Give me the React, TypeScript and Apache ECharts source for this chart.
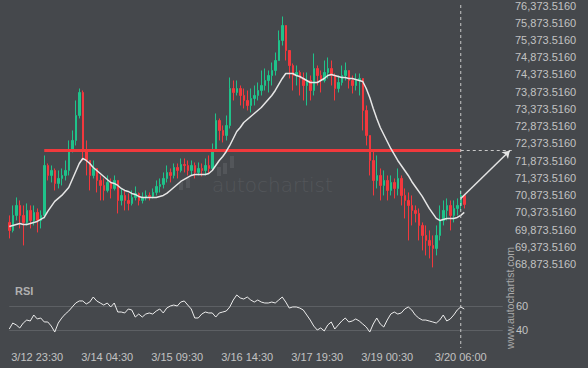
import React, { useEffect, useRef } from 'react';
import * as echarts from 'echarts';

// ---- data ----
const firstOpen = 70080;
const closes = [
  69848, 70283, 70573, 70283, 70080, 70428, 70138, 70370, 70138, 70283,
  71733, 71443, 71588, 71211, 71356, 71443, 71588, 72168, 72458, 73183,
  73850, 72168, 71878, 71443, 71646, 71298, 71153, 71008, 71240, 71066,
  71298, 70718, 70863, 70718, 70631, 70805, 70921, 70718, 70805, 70863,
  70834, 70950, 71124, 71182, 71356, 71530, 71443, 71675, 71588, 71762,
  71733, 71588, 71733, 71530, 71646, 71588, 71733, 71646, 72168, 73038,
  72748, 72603, 72893, 73966, 73850, 73966, 73763, 73618, 73473, 73676,
  73763, 73908, 74053, 74198, 74343, 74488, 74778, 75358, 75793, 75068,
  74633, 74343, 74430, 74256, 74053, 74198, 73908, 74546, 74343, 74198,
  74430, 74546, 74343, 73966, 74140, 74343, 74488, 74198, 74053, 74198,
  74256, 73328, 72603, 71878, 71298, 71443, 71153, 71298, 71008, 71240,
  71066, 71356, 70863, 70718, 70573, 70428, 70341, 69993, 69703, 69558,
  69413, 69326, 69703, 70138, 70428, 70573, 70283, 70486, 70573, 70863,
  70602,
];
const highs = [
  70283, 70573, 70805, 70718, 70573, 70631, 70573, 70573, 70486, 70428,
  72023, 71791, 71733, 71646, 71588, 71646, 71878, 72458, 72748, 73618,
  73966, 73908, 72458, 71878, 71878, 71646, 71443, 71356, 71443, 71356,
  71443, 71153, 71066, 71008, 70921, 71008, 71124, 70950, 70950, 71008,
  70950, 71066, 71298, 71356, 71530, 71733, 71646, 71791, 71791, 71936,
  71936, 71878, 71878, 71820, 71820, 71791, 71936, 72023, 72371, 73241,
  73096, 72893, 73183, 74285, 74198, 74198, 74053, 73966, 73908, 73966,
  74053, 74140, 74488, 74546, 74488, 74720, 75010, 75648, 76054, 75793,
  75068, 74691, 74633, 74488, 74430, 74430, 74343, 74981, 74633, 74488,
  74778, 74865, 74778, 74401, 74343, 74633, 74720, 74488, 74343, 74401,
  74401, 74256, 73473, 72603, 72168, 72023, 71646, 71588, 71443, 71443,
  71356, 71646, 71443, 71066, 70950, 70863, 70573, 70486, 70080, 69993,
  69848, 69703, 69993, 70573, 70718, 70776, 70718, 70718, 70776, 71008,
  70863,
];
const lows = [
  69616, 69790, 70138, 69906, 69413, 69993, 69906, 69993, 69790, 69906,
  70196, 71298, 71240, 71008, 71066, 71153, 71298, 71443, 72110, 72313,
  73096, 71878, 71443, 71008, 71356, 70950, 70718, 70718, 70950, 70776,
  71008, 70341, 70573, 70428, 70428, 70573, 70718, 70573, 70631, 70718,
  70718, 70776, 70863, 70950, 71066, 71240, 71240, 71356, 71356, 71530,
  71530, 71443, 71443, 71356, 71443, 71414, 71443, 71501, 71588, 72168,
  72458, 72400, 72458, 72806, 73618, 73763, 73473, 73386, 73328, 73270,
  73473, 73618, 73763, 73908, 73850, 74053, 74343, 74836, 75213, 74778,
  74256, 73908, 74053, 73763, 73618, 73473, 73618, 73763, 74053, 73850,
  74140, 74256, 74053, 73618, 73850, 74053, 74198, 73966, 73821, 73908,
  73763, 72748, 72313, 71443, 70863, 71066, 70718, 70863, 70718, 70863,
  70776, 70863, 70573, 70196, 69558, 69993, 70080, 69558, 69268, 69123,
  69036, 68775, 69123, 69558, 69993, 70138, 69848, 70080, 70283, 70428,
  70486,
];
const maValues = [
  69964, 69993, 70022, 70051, 70022, 70022, 70051, 70080, 70109, 70167,
  70225, 70399, 70544, 70689, 70776, 70863, 70979, 71095, 71327, 71559,
  71791, 71936, 71878, 71791, 71675, 71588, 71501, 71414, 71327, 71240,
  71211, 71153, 71066, 71008, 70979, 70921, 70892, 70834, 70805, 70805,
  70805, 70805, 70805, 70834, 70863, 70921, 71008, 71095, 71182, 71269,
  71327, 71385, 71443, 71472, 71472, 71472, 71472, 71501, 71588, 71733,
  71878, 71994, 72139, 72313, 72516, 72719, 72835, 72980, 73067, 73154,
  73241, 73328, 73415, 73531, 73647, 73763, 73908, 74082, 74256, 74401,
  74401, 74401, 74343, 74314, 74256, 74198, 74140, 74140, 74140, 74198,
  74256, 74343, 74372, 74343, 74314, 74285, 74285, 74256, 74256, 74227,
  74198, 74169, 73966, 73705, 73386, 73096, 72835, 72632, 72429, 72226,
  72052, 71878, 71733, 71588, 71443, 71269, 71124, 70979, 70834, 70660,
  70486, 70341, 70196, 70138, 70167, 70196, 70196, 70196, 70225, 70283,
  70370,
];
const rsiValues = [
  40.8, 45.8, 44.2, 41.7, 45.8, 48.3, 47.5, 52.5, 49.2, 50,
  46.7, 46.7, 43.3, 38.3, 45.8, 50, 53.3, 55.8, 59.2, 62.5,
  64.2, 64.2, 61.7, 63.3, 67.5, 64.2, 62.5, 60.8, 62.5, 59.2,
  62.5, 55, 55, 54.2, 57.5, 56.7, 50.8, 53.3, 50.8, 53.3,
  54.2, 53.3, 55.8, 57.5, 54.2, 58.3, 60, 60.8, 60, 63.3,
  64.2, 60.8, 57.5, 50, 50, 53.3, 55, 54.2, 54.2, 50.8,
  54.2, 55, 55.8, 59.2, 65, 69.2, 66.7, 65.8, 67.5, 65,
  63.3, 65, 63.3, 62.5, 62.5, 63.3, 62.5, 65, 67.5, 63.3,
  58.3, 59.2, 59.2, 58.3, 56.7, 52.5, 48.3, 43.3, 40, 41.7,
  39.2, 44.2, 46.7, 40.8, 44.2, 47.5, 50, 46.7, 47.5, 49.2,
  47.5, 45, 42.5, 38.3, 45, 50, 45, 42.5, 48.3, 53.3,
  55, 53.3, 54.2, 57.5, 59.2, 56.7, 52.5, 50, 48.3, 48.3,
  47.5, 46.7, 45.8, 48.3, 52.5, 47.5, 49.2, 52.5, 56.7, 59.2,
  57.5,
];
const priceTicks = [
  68873.516, 69373.516, 69873.516, 70373.516, 70873.516, 71373.516,
  71873.516, 72373.516, 72873.516, 73373.516, 73873.516, 74373.516,
  74873.516, 75373.516, 75873.516, 76373.516,
];
const rsiTicks = [40, 60];
const timeLabels = ['3/12 23:30', '3/14 04:30', '3/15 09:30', '3/16 14:30', '3/17 19:30', '3/19 00:30', '3/20 06:00'];
const timeLabelIndex = [8, 28, 48, 68, 88, 108, 129];
const patternLevel = 72160;
const lineStartIndex = 10;
const nowIndex = 129;
const arrowStartPrice = 70776;
const arrowEndIndex = 143;
const projectionEndIndex = 144;
const slotCount = 145;

const BG = '#45484c';
const LABEL = '#c2c2c2';
const FONT = 'Liberation Sans, Arial, sans-serif';

export default function App() {
  const ref = useRef<HTMLDivElement>(null);
  useEffect(() => {
    const el = ref.current;
    if (!el) return;
    const chart = echarts.init(el, undefined, { renderer: 'svg' });
    const categories = Array.from({ length: slotCount }, (_, i) => String(i));
    const candles = closes.map((c, i) => {
      const o = i === 0 ? firstOpen : closes[i - 1];
      return [o, c, Math.min(lows[i], o, c), Math.max(highs[i], o, c)];
    });
    const labelAt = (idx: number) => {
      const k = timeLabelIndex.indexOf(idx);
      return k >= 0 ? timeLabels[k] : '';
    };
    const fmt = (v: number) =>
      Number(v).toLocaleString('en-US', { minimumFractionDigits: 4, maximumFractionDigits: 4 });

    const gridLeft = 7.5;
    const gridWidth = slotCount * 3.5;

    chart.setOption({
      animation: false,
      backgroundColor: BG,
      grid: [
        { left: gridLeft, top: 0, width: gridWidth, height: 270 },
        { left: gridLeft, top: 282, width: gridWidth, height: 60 },
      ],
      xAxis: [
        {
          type: 'category', gridIndex: 0, data: categories, boundaryGap: true,
          axisLine: { show: false }, axisTick: { show: false }, axisLabel: { show: false }, splitLine: { show: false },
        },
        {
          type: 'category', gridIndex: 1, data: categories, boundaryGap: true,
          axisLine: { show: false }, axisTick: { show: false }, splitLine: { show: false },
          axisLabel: {
            color: LABEL, fontSize: 11, fontFamily: FONT, margin: 9,
            interval: (index: number) => timeLabelIndex.indexOf(index) >= 0,
            formatter: (_v: string, index: number) => labelAt(index),
          },
        },
      ],
      yAxis: [
        {
          type: 'value', gridIndex: 0, position: 'right', min: 68700, max: 76518, scale: true,
          axisLine: { show: false }, axisTick: { show: false }, splitLine: { show: false },
          axisLabel: { color: LABEL, fontSize: 11, fontFamily: FONT, margin: 0, customValues: priceTicks, formatter: fmt },
        },
        {
          type: 'value', gridIndex: 1, position: 'right', min: 30, max: 80,
          axisLine: { show: false }, axisTick: { show: false }, splitLine: { show: false },
          axisLabel: { color: LABEL, fontSize: 11, fontFamily: FONT, margin: 1, customValues: rsiTicks },
        },
      ],
      series: [
        {
          type: 'candlestick', xAxisIndex: 0, yAxisIndex: 0, data: candles, barWidth: 2,
          itemStyle: { color: '#1fc28a', color0: '#f3383d', borderColor: '#1fc28a', borderColor0: '#f3383d', borderWidth: 1 },
          markLine: {
            silent: true, symbol: ['none', 'none'], label: { show: false },
            data: [
              [
                { coord: [lineStartIndex, patternLevel], lineStyle: { color: '#f0393c', width: 3, type: 'solid' } },
                { coord: [nowIndex, patternLevel] },
              ],
              [
                { coord: [nowIndex, patternLevel], lineStyle: { color: '#c8c8c8', width: 1, type: [3, 3] } },
                { coord: [projectionEndIndex, patternLevel] },
              ],
              [
                { coord: [nowIndex, arrowStartPrice], symbol: 'none', lineStyle: { color: '#e4e4e4', width: 1.5, type: 'solid' } },
                { coord: [arrowEndIndex, patternLevel], symbol: 'arrow', symbolSize: 7 },
              ],
            ],
          },
        },
        {
          type: 'line', xAxisIndex: 0, yAxisIndex: 0, data: maValues, showSymbol: false, symbol: 'none',
          lineStyle: { color: '#e6e6e6', width: 1.5 }, z: 5,
        },
        {
          type: 'line', xAxisIndex: 1, yAxisIndex: 1, data: rsiValues, showSymbol: false, symbol: 'none',
          lineStyle: { color: '#ececec', width: 1 }, z: 5,
          markLine: {
            silent: true, symbol: ['none', 'none'], label: { show: false },
            lineStyle: { color: '#5d6064', width: 1, type: 'solid' },
            data: [
              [{ coord: [0, 40] }, { coord: [141, 40] }],
              [{ coord: [0, 60] }, { coord: [141, 60] }],
            ],
          },
        },
      ],
    });

    const nowX = chart.convertToPixel({ xAxisIndex: 0 }, nowIndex) as number;
    const wm = '#53565a';
    chart.setOption({
      graphic: [
        { type: 'rect', silent: true, z: 0, shape: { x: 179, y: 182, width: 4, height: 8 }, style: { fill: wm } },
        { type: 'rect', silent: true, z: 0, shape: { x: 186, y: 178, width: 4, height: 10 }, style: { fill: wm } },
        { type: 'rect', silent: true, z: 0, shape: { x: 217, y: 167, width: 4, height: 9 }, style: { fill: wm } },
        { type: 'rect', silent: true, z: 0, shape: { x: 223, y: 163, width: 4, height: 11 }, style: { fill: wm } },
        { type: 'rect', silent: true, z: 0, shape: { x: 230, y: 156, width: 4, height: 12 }, style: { fill: wm } },
        {
          type: 'text', silent: true, z: 0, x: 212, y: 185,
          style: { text: 'autochartist', fill: wm, font: '200 20px "DejaVu Sans", sans-serif', textVerticalAlign: 'middle' },
        },
        {
          type: 'text', silent: true, x: 15, y: 291,
          style: { text: 'RSI', fill: '#b0b0b0', font: 'bold 11px "Liberation Sans", Arial, sans-serif', textVerticalAlign: 'middle' },
        },
        {
          type: 'text', silent: true, x: 510, y: 298, rotation: Math.PI / 2,
          style: {
            text: 'www.autochartist.com', fill: '#a9a9a9', font: '10.5px "Liberation Sans", Arial, sans-serif',
            textAlign: 'center', textVerticalAlign: 'middle',
          },
        },
        {
          type: 'line', silent: true, z: 10,
          shape: { x1: nowX, y1: 5, x2: nowX, y2: 348 },
          style: { stroke: '#c8c8c8', lineWidth: 1, lineDash: [3, 3] },
        },
      ],
    });

    return () => chart.dispose();
  }, []);
  return (
    <div
      ref={ref}
      style={{ position: 'fixed', left: 0, top: 0, width: 588, height: 368, background: BG }}
    />
  );
}
